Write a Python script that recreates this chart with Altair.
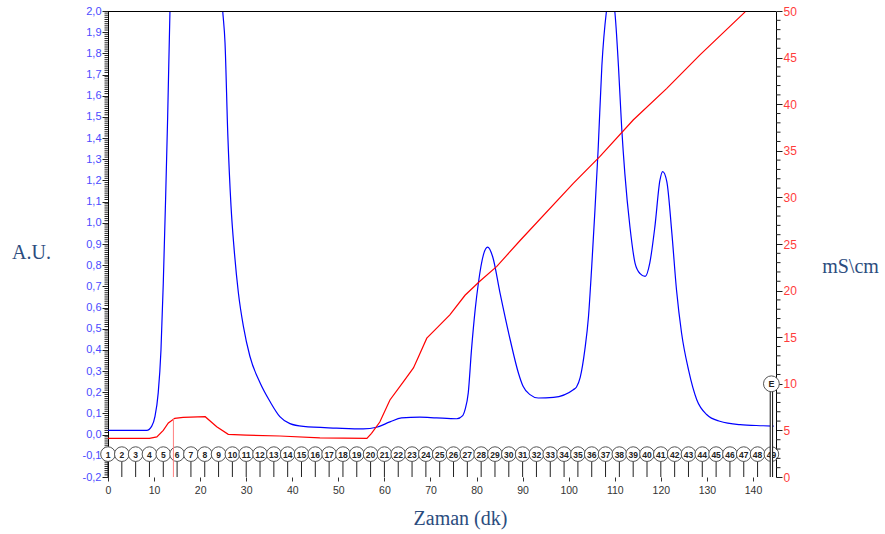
import altair as alt
import pandas as pd

# ---------------- data ----------------
# UV absorbance trace (blue, left axis, A.U.)
uv_time = [0, 8.4, 9.5, 10.2, 10.9, 11.5, 12.0, 12.5, 12.95, 13.45, 14.5, 16, 19, 22, 24,
           24.9, 25.4, 26.0, 26.7, 27.4, 28.3, 29.4, 30.8, 33.0, 35.2, 37.3, 39.5, 42.4,
           49.6, 55.4, 58.3, 61.2, 63.7, 67.7, 71.3, 75.7, 77.0, 77.5, 78.2, 78.9, 79.7,
           80.4, 81.5, 82.4, 83.5, 85.1, 87.3, 89.1, 90.1, 91.6, 93.4, 96.7, 101.0, 101.7,
           102.5, 103.5, 104.3, 105.0, 105.7, 106.4, 107.2, 108.2, 109.0, 110.0, 110.8,
           111.5, 112.2, 113.3, 114.4, 115.5, 116.6, 117.6, 118.7, 119.8, 120.4, 121.3,
           122.4, 123.4, 124.5, 126.0, 127.8, 130.0, 132.8, 137.2, 142.2, 144.5]
uv_value = [0.02, 0.02, 0.04, 0.086, 0.197, 0.40, 0.715, 1.11, 1.50, 2.0, 2.6, 3.0, 3.2, 2.9, 2.3,
            2.0, 1.85, 1.42, 1.08, 0.87, 0.67, 0.51, 0.37, 0.245, 0.155, 0.085, 0.052, 0.039,
            0.031, 0.027, 0.035, 0.06, 0.079, 0.083, 0.079, 0.075, 0.09, 0.118, 0.197, 0.40, 0.59,
            0.716, 0.85, 0.885, 0.84, 0.668, 0.448, 0.29, 0.228, 0.189, 0.173, 0.176, 0.212, 0.225,
            0.27, 0.40, 0.558, 0.794, 1.06, 1.35, 1.74, 2.0, 2.1, 2.0, 1.74,
            1.45, 1.23, 0.98, 0.81, 0.76, 0.747, 0.81, 0.98, 1.20, 1.242, 1.195,
            0.95, 0.684, 0.48, 0.307, 0.165, 0.094, 0.063, 0.047, 0.042, 0.04]

# Conductivity trace (red, right axis, mS/cm)
cond_time = [0, 9, 10.6, 12.0, 13.1, 14.5, 16.3, 21.1, 23.6, 26.1, 30, 37.3, 46, 56.2, 57.2,
             59, 61.2, 64.1, 66.3, 67.4, 69.2, 71.3, 74.2, 77.5, 80.7, 84.4, 89.5, 101,
             106.8, 114, 121.3, 128.5, 138.3]
cond_value = [4.15, 4.15, 4.3, 5.0, 5.8, 6.3, 6.4, 6.47, 5.4, 4.58, 4.5, 4.4, 4.2, 4.15, 4.69,
              5.9, 8.26, 10.2, 11.7, 12.9, 14.9, 15.95, 17.4, 19.5, 21.0, 22.6, 25.4, 31.5,
              34.4, 38.3, 41.7, 45.3, 49.9]

# Fraction markers
fraction_number = [str(i) for i in range(1, 50)]
fraction_time = [0, 3, 6, 9, 12, 15, 18, 21, 24, 27, 30, 33, 36, 39, 42, 45, 48, 51, 54, 57,
                 60, 63, 66, 69, 72, 75, 78, 81, 84, 87, 90, 93, 96, 99, 102, 105, 108, 111,
                 114, 117, 120, 123, 126, 129, 132, 135, 138, 141, 144]
fraction_level = -0.092

# Injection mark and end mark
injection_time = [14.2]
injection_cond = [6.3]
end_time = [144]
end_cond = [10]

x_ticks = [0, 10, 20, 30, 40, 50, 60, 70, 80, 90, 100, 110, 120, 130, 140]
left_major = [-0.2, -0.1, 0.0, 0.1, 0.2, 0.3, 0.4, 0.5, 0.6, 0.7, 0.8, 0.9, 1.0, 1.1,
              1.2, 1.3, 1.4, 1.5, 1.6, 1.7, 1.8, 1.9, 2.0]
left_minor = [round(v / 100, 2) for v in range(-20, 201) if v % 10 != 0]
right_major = [0, 5, 10, 15, 20, 25, 30, 35, 40, 45, 50]
right_minor = [v for v in range(0, 51) if v % 5 != 0]

# ---------------- chart ----------------
W, H = 668, 466
TITLE_COLOR = "#2B4C7E"
SANS = "Liberation Sans"
SERIF = "Liberation Serif"

xs = alt.Scale(domain=[0, 145], nice=False, zero=False)
yl = alt.Scale(domain=[-0.2, 2.0], nice=False, zero=False)
yr = alt.Scale(domain=[0, 50], nice=False, zero=False)

uv_df = pd.DataFrame({"t": uv_time, "v": uv_value})
cond_df = pd.DataFrame({"t": cond_time, "v": cond_value})
frac_df = pd.DataFrame({"t": fraction_time, "n": fraction_number,
                        "lvl": [fraction_level] * len(fraction_time),
                        "bot": [-0.2] * len(fraction_time)})
lminor_df = pd.DataFrame({"v": left_minor})
rminor_df = pd.DataFrame({"v": right_minor})
inj_df = pd.DataFrame({"t": injection_time, "v": injection_cond, "z": [0]})
end_df = pd.DataFrame({"t": end_time, "v": end_cond, "z": [0], "lab": ["E"]})

x_axis = alt.Axis(values=x_ticks, title="Zaman (dk)", domain=False, grid=False,
                  tickSize=4, tickColor="#333", labelColor="#333", labelFont=SANS,
                  labelFontSize=10.5, labelPadding=4, labelFlush=False,
                  titleFont=SERIF, titleFontSize=20, titleFontWeight="normal",
                  titleColor=TITLE_COLOR, titleX=352, titleY=41,
                  titleAlign="center", titleBaseline="middle")

left_axis = alt.Axis(values=left_major, orient="left", title="A.U.", grid=False,
                     labelExpr="(datum.value < -0.001 ? '-' : '') + replace(format(abs(datum.value), '.1f'), '.', ',')",
                     labelOverlap=False, labelFlush=False, labelFont=SANS, labelFontSize=11,
                     labelColor="#4B4BFF", labelPadding=1, tickSize=6, tickColor="#222",
                     domainColor="#000", titleFont=SERIF, titleFontSize=20,
                     titleFontWeight="normal", titleColor=TITLE_COLOR, titleAngle=0,
                     titleX=-77, titleY=241, titleAlign="center", titleBaseline="middle")

right_axis = alt.Axis(values=right_major, orient="right", title="mS\\cm", grid=False,
                      labelOverlap=False, labelFlush=False, labelFont=SANS, labelFontSize=12,
                      labelColor="#FF3C3C", labelPadding=1, tickSize=6, tickColor="#222",
                      domainColor="#000", titleFont=SERIF, titleFontSize=20,
                      titleFontWeight="normal", titleColor=TITLE_COLOR, titleAngle=0,
                      titleX=74, titleY=255, titleAlign="center", titleBaseline="middle")


def X(field):
    return alt.X(field, type="quantitative", scale=xs, axis=x_axis)


def YL(field):
    return alt.Y(field, type="quantitative", scale=yl, axis=left_axis)


def YR(field):
    return alt.Y(field, type="quantitative", scale=yr, axis=right_axis)


uv_line = alt.Chart(uv_df).mark_line(color="#0000FF", strokeWidth=1.2, clip=True,
                                     interpolate="monotone").encode(x=X("t"), y=YL("v"))

lminor = alt.Chart(lminor_df).mark_rule(color="#222", strokeWidth=1).encode(
    x=alt.value(-3.5), x2=alt.value(0), y=YL("v"))

top_border = alt.Chart(lminor_df).mark_rule(color="#000", strokeWidth=1).encode(
    x=alt.value(0), x2=alt.value(W), y=alt.value(0.5))

frac_rules = alt.Chart(frac_df).mark_rule(color="#222", strokeWidth=1).encode(
    x=X("t"), y=YL("bot"), y2="lvl:Q")

frac_circles = alt.Chart(frac_df).mark_point(
    shape="circle", size=215, fill="white", stroke="#555", strokeWidth=1,
    opacity=1, fillOpacity=1, filled=False).encode(x=X("t"), y=YL("lvl"))

frac_text = alt.Chart(frac_df).mark_text(
    font=SANS, fontSize=8.5, fontWeight="bold", color="#222",
    align="center", baseline="middle", dy=0.5).encode(x=X("t"), y=YL("lvl"), text="n:N")

left_group = alt.layer(uv_line, lminor, top_border, frac_rules, frac_circles, frac_text)

cond_line = alt.Chart(cond_df).mark_line(color="#FF0000", strokeWidth=1.2, clip=True).encode(
    x=X("t"), y=YR("v"))

rminor = alt.Chart(rminor_df).mark_rule(color="#222", strokeWidth=1).encode(
    x=alt.value(W), x2=alt.value(W + 4.5), y=YR("v"))

inj_rule = alt.Chart(inj_df).mark_rule(color="#FF8080", strokeWidth=1).encode(
    x=X("t"), y=YR("z"), y2="v:Q")

end_rule_outer = alt.Chart(end_df).mark_rule(color="#222", strokeWidth=3.4).encode(
    x=X("t"), y=YR("z"), y2="v:Q")
end_rule_inner = alt.Chart(end_df).mark_rule(color="white", strokeWidth=1.2).encode(
    x=X("t"), y=YR("z"), y2="v:Q")
end_circle = alt.Chart(end_df).mark_point(
    shape="circle", size=250, fill="white", stroke="#555", strokeWidth=1,
    opacity=1, fillOpacity=1, filled=False).encode(x=X("t"), y=YR("v"))
end_text = alt.Chart(end_df).mark_text(
    font=SANS, fontSize=9, fontWeight="bold", color="#222",
    align="center", baseline="middle", dy=0.5).encode(x=X("t"), y=YR("v"), text="lab:N")

right_group = alt.layer(cond_line, rminor, inj_rule, end_rule_outer, end_rule_inner,
                        end_circle, end_text)

chart = alt.layer(left_group, right_group).resolve_scale(y="independent").properties(
    width=W, height=H,
    autosize=alt.AutoSizeParams(type="none"),
    padding={"left": 108, "top": 11, "right": 109, "bottom": 57},
    background="white",
).configure_view(stroke=None)

chart.save("out.html", embed_options={"renderer": "svg", "actions": False})
